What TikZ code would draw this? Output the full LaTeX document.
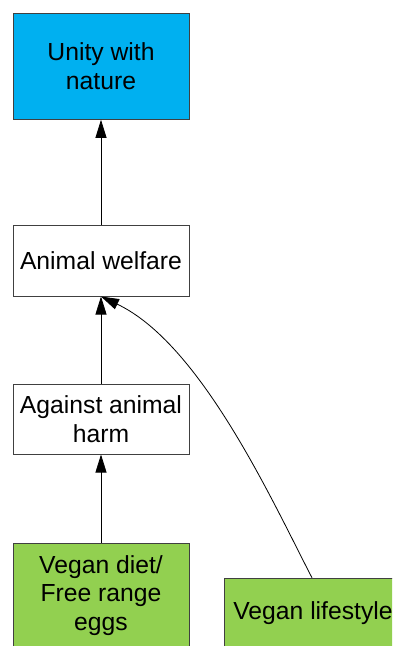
\documentclass[tikz,border=0pt]{standalone}
\usepackage{fontspec}
\setmainfont{Liberation Sans}
\usetikzlibrary{arrows.meta}
\definecolor{skyfill}{HTML}{00B0F0}
\definecolor{leaffill}{HTML}{92D050}
\definecolor{edgegray}{HTML}{404040}
\tikzset{
  box/.style={draw=edgegray, line width=1pt, minimum width=176pt, align=center,
    inner sep=2pt, font=\fontsize{24.7}{28.5}\selectfont},
  arr/.style={draw=black, line width=0.8pt, -{Triangle[length=18pt,width=11pt]}}
}
\begin{document}
\begin{tikzpicture}[x=1pt,y=-1pt]
  \useasboundingbox (0,0) rectangle (392,646);
  \clip (0,0) rectangle (392,646);
  \node[box, fill=skyfill, minimum height=106pt] (unity) at (101,66.3) {Unity with\\nature};
  \node[box, fill=white, minimum height=71pt] (welfare) at (101,260.5) {Animal welfare};
  \node[box, fill=white, minimum height=70pt] (harm) at (101,419) {Against animal\\harm};
  \node[box, fill=leaffill, minimum height=105pt] (diet) at (101,595.5) {Vegan diet/\\Free range\\eggs};
  \node[box, fill=leaffill, minimum width=178pt, minimum height=70pt] (life) at (313,613.3) {Vegan lifestyle};
  \draw[arr] (diet.north) -- (harm.south);
  \draw[arr] (harm.north) -- (welfare.south);
  \draw[arr] (welfare.north) -- (unity.south);
  \draw[arr] ([xshift=-1pt]life.north) .. controls (272.2,500.9) and (200.9,343.7) .. (welfare.south);
\end{tikzpicture}
\end{document}
